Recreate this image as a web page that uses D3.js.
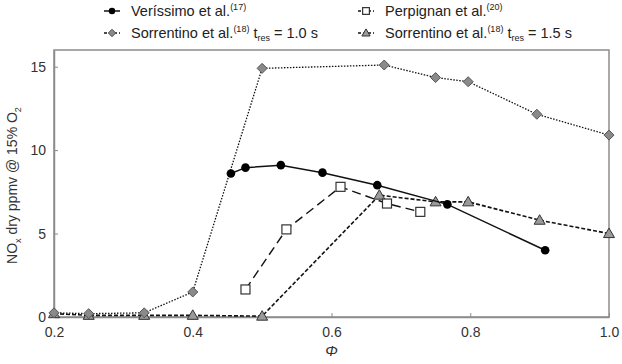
<!DOCTYPE html>
<html>
<head>
<meta charset="utf-8">
<script src="https://cdn.jsdelivr.net/npm/d3@7"></script>
<style>
  body { margin: 0; background: #fff; }
  svg text { font-family: "Liberation Sans", Arial, sans-serif; }
</style>
</head>
<body>
<div id="content"></div>
<script>
// Data.
var verissimoPhi = [0.455, 0.476, 0.527, 0.587, 0.666, 0.767, 0.908];
var verissimoNox = [8.6, 8.95, 9.1, 8.65, 7.9, 6.75, 4.0];

var perpignanPhi = [0.476, 0.535, 0.613, 0.68, 0.728];
var perpignanNox = [1.65, 5.25, 7.8, 6.8, 6.3];

var sorr10Phi = [0.2, 0.25, 0.33, 0.4, 0.5, 0.676, 0.75, 0.797, 0.896, 1.0];
var sorr10Nox = [0.25, 0.2, 0.25, 1.5, 14.9, 15.1, 14.35, 14.1, 12.15, 10.9];

var sorr15Phi = [0.2, 0.25, 0.33, 0.4, 0.5, 0.669, 0.75, 0.797, 0.9, 1.0];
var sorr15Nox = [0.2, 0.1, 0.1, 0.1, 0.05, 7.3, 6.9, 6.9, 5.8, 5.0];

var xTicks = [0.2, 0.4, 0.6, 0.8, 1.0];
var yTicks = [0, 5, 10, 15];

function zip(xs, ys) {
  return xs.map(function(x, i) { return {x: x, y: ys[i]}; });
}

var width = 622, height = 364;
var margin = {left: 54, right: 13, top: 50, bottom: 47};

var svg = d3.select('#content').append('svg')
    .attr('width', width).attr('height', height);

var scaleX = d3.scaleLinear().domain([0.2, 1.0])
    .range([margin.left, width - margin.right]);
var scaleY = d3.scaleLinear().domain([0, 16])
    .range([height - margin.bottom, margin.top]);

var axisColor = '#8c8c8c';

// Plot frame.
svg.append('rect')
    .attr('x', scaleX(0.2)).attr('y', scaleY(16))
    .attr('width', scaleX(1.0) - scaleX(0.2))
    .attr('height', scaleY(0) - scaleY(16))
    .attr('fill', 'none').attr('stroke', axisColor).attr('stroke-width', 1.5);

// Axes with inward ticks.
var xAxis = svg.append('g')
    .attr('transform', 'translate(0,' + scaleY(0) + ')')
    .call(d3.axisBottom(scaleX).tickValues(xTicks).tickFormat(d3.format('.1f'))
          .tickSizeInner(-4).tickSizeOuter(0).tickPadding(10));
var yAxis = svg.append('g')
    .attr('transform', 'translate(' + scaleX(0.2) + ',0)')
    .call(d3.axisLeft(scaleY).tickValues(yTicks)
          .tickSizeInner(-4).tickSizeOuter(0).tickPadding(8));

[xAxis, yAxis].forEach(function(a) {
  a.select('.domain').attr('stroke', axisColor).attr('stroke-width', 1.5);
  a.selectAll('.tick line').attr('stroke', axisColor);
  a.selectAll('.tick text').attr('fill', '#333').style('font-size', '14px');
});

// Axis titles.
svg.append('text')
    .attr('x', scaleX(0.6)).attr('y', 356)
    .attr('text-anchor', 'middle')
    .style('font-size', '15px').style('font-style', 'italic').attr('fill', '#333')
    .text('Φ');

var yl = svg.append('text')
    .attr('transform', 'translate(17,' + ((scaleY(0) + scaleY(16)) / 2 + 2) + ') rotate(-90)')
    .attr('text-anchor', 'middle')
    .style('font-size', '14px').attr('fill', '#333');
yl.append('tspan').text('NO');
yl.append('tspan').attr('dy', 4).style('font-size', '9px').text('x');
yl.append('tspan').attr('dy', -4).text(' dry ppmv @ 15% O');
yl.append('tspan').attr('dy', 4).style('font-size', '9px').text('2');

var line = d3.line()
    .x(function(d) { return scaleX(d.x); })
    .y(function(d) { return scaleY(d.y); });

var series = [
  {data: zip(sorr15Phi, sorr15Nox), dash: '4,2', width: 1.6, marker: 'triangle'},
  {data: zip(sorr10Phi, sorr10Nox), dash: '1.5,1.5', width: 1.3, marker: 'diamond'},
  {data: zip(perpignanPhi, perpignanNox), dash: '9,5', width: 1.4, marker: 'square'},
  {data: zip(verissimoPhi, verissimoNox), dash: null, width: 1.5, marker: 'circle'}
];

function drawMarker(g, kind, x, y, k) {
  k = k || 1;
  if (kind === 'circle') {
    g.append('circle').attr('cx', x).attr('cy', y).attr('r', 4.3 * k)
        .attr('fill', '#000');
  } else if (kind === 'square') {
    g.append('rect').attr('x', x - 4.5 * k).attr('y', y - 4.5 * k)
        .attr('width', 9 * k).attr('height', 9 * k)
        .attr('fill', '#fff').attr('stroke', '#333').attr('stroke-width', 1.2);
  } else if (kind === 'diamond') {
    var r = 5 * k;
    g.append('path')
        .attr('d', 'M' + x + ',' + (y - r) + 'L' + (x + r) + ',' + y + 'L' + x + ',' + (y + r) + 'L' + (x - r) + ',' + y + 'Z')
        .attr('fill', '#8a8a8a').attr('stroke', '#555').attr('stroke-width', 1);
  } else {
    var t = 5.5 * k;
    g.append('path')
        .attr('d', 'M' + x + ',' + (y - t) + 'L' + (x + t) + ',' + (y + t * 0.73) + 'L' + (x - t) + ',' + (y + t * 0.73) + 'Z')
        .attr('fill', '#9a9a9a').attr('stroke', '#333').attr('stroke-width', 1);
  }
}

series.forEach(function(s) {
  svg.append('path')
      .datum(s.data)
      .attr('d', line)
      .attr('fill', 'none')
      .attr('stroke', '#111')
      .attr('stroke-width', s.width)
      .attr('stroke-dasharray', s.dash);
  var g = svg.append('g');
  s.data.forEach(function(d) { drawMarker(g, s.marker, scaleX(d.x), scaleY(d.y)); });
});

// Legend.
var legend = [
  {x: 112, y: 11, s: series[3], label: ['Veríssimo et al.', '(17)', '', '']},
  {x: 366, y: 11, s: series[2], label: ['Perpignan et al.', '(20)', '', '']},
  {x: 112, y: 33, s: series[1], label: ['Sorrentino et al.', '(18)', ' t', 'res', ' = 1.0 s']},
  {x: 366, y: 33, s: series[0], label: ['Sorrentino et al.', '(18)', ' t', 'res', ' = 1.5 s']}
];

legend.forEach(function(l) {
  var g = svg.append('g');
  g.append('line')
      .attr('x1', l.x - 8).attr('x2', l.x + 8).attr('y1', l.y).attr('y2', l.y)
      .attr('stroke', '#111').attr('stroke-width', l.s.width)
      .attr('stroke-dasharray', l.s.dash ? '3,2' : null);
  drawMarker(g, l.s.marker, l.x, l.y, 0.75);
  var t = g.append('text')
      .attr('x', l.x + 19).attr('y', l.y + 5)
      .style('font-size', '14.5px').attr('fill', '#222');
  t.append('tspan').text(l.label[0]);
  t.append('tspan').attr('dy', -6).style('font-size', '9px').text(l.label[1]);
  if (l.label[2]) {
    t.append('tspan').attr('dy', 6).text(l.label[2]);
    t.append('tspan').attr('dy', 3).style('font-size', '9px').text(l.label[3]);
    t.append('tspan').attr('dy', -3).text(l.label[4]);
  }
});
</script>
</body>
</html>
